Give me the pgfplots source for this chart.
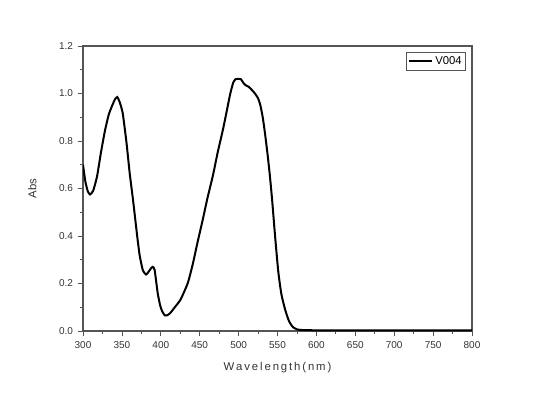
\documentclass[border=0pt]{standalone}
\usepackage{pgfplots}
\pgfplotsset{compat=1.18}
\usepackage{fontspec}
\setmainfont{Liberation Sans}
\definecolor{axgray}{HTML}{555555}
\definecolor{txtgray}{HTML}{333333}
\begin{document}
\begin{tikzpicture}
\begin{axis}[
  scale only axis,
  width=291.75pt, height=213.75pt,
  xmin=300, xmax=800, ymin=0, ymax=1.2,
  xtick={300,350,...,800},
  ytick={0,0.2,...,1.2},
  minor x tick num=1, minor y tick num=1,
  axis line style={axgray, line width=0.8pt},
  tick style={axgray, line width=0.6pt},
  tick align=outside,
  xtick pos=bottom, ytick pos=left,
  major tick length=4pt, minor tick length=2pt,
  /pgf/number format/assume math mode=true,
  xticklabel style={font=\fontsize{7.5}{9}\selectfont, text=txtgray},
  yticklabel style={font=\fontsize{7.5}{9}\selectfont, text=txtgray, /pgf/number format/.cd, fixed, fixed zerofill, precision=1},
  x tick label style={/pgf/number format/.cd, fixed, precision=0},
  xlabel={W\,a\,v\,e\,l\,e\,n\,g\,t\,h\,(\,n\,m\,)},
  ylabel={Abs},
  label style={font=\fontsize{8.5}{10}\selectfont, text=txtgray},
  xlabel style={yshift=-4pt},
  ylabel style={yshift=10pt},
  legend style={at={(0.985,0.98)}, anchor=north east, draw=axgray, line width=0.6pt,
    font=\fontsize{8.5}{10}\selectfont, inner sep=1pt, row sep=0pt},
  legend cell align=left,
  legend image post style={line width=1.5pt},
  clip=true,
]
\addplot[black, line width=1.5pt, smooth, tension=0.35] coordinates {
(300,0.70) (303,0.63) (306,0.59) (309,0.575) (313,0.59) (318,0.65)
(323,0.75) (328,0.84) (333,0.91) (337,0.945) (341,0.975) (344,0.985)
(347,0.965) (351,0.918) (356,0.79) (360,0.665) (364,0.56) (367,0.475)
(370,0.39) (373,0.315) (377,0.255) (381,0.238) (384,0.248)
(387,0.262) (389.5,0.27) (392,0.258) (396,0.16) (399,0.11) (401.5,0.085)
(405,0.066) (408,0.066) (412,0.075) (418,0.10) (425,0.13) (430,0.165)
(435,0.205) (441,0.28) (447,0.37) (454,0.47) (460,0.56)
(467,0.655) (473,0.75) (480,0.85) (485,0.93) (489,0.995) (493,1.045)
(496,1.06) (499,1.062) (503,1.06) (506,1.045) (509,1.035)
(513,1.028) (517,1.015) (521,1.00) (525,0.98) (528,0.95) (531,0.90)
(534,0.83) (537,0.75) (540,0.66) (543,0.555) (547,0.395) (551,0.25)
(555,0.155) (560,0.088) (565,0.040) (570,0.016) (576,0.006) (583,0.004)
(600,0.003) (650,0.003) (700,0.003) (750,0.003) (800,0.003)
};
\addlegendentry{V004}
\end{axis}
\pgfresetboundingbox
\path ([shift={(-62.25pt,-45.75pt)}]current axis.south west) rectangle ([shift={(45.75pt,34.5pt)}]current axis.north east);
\end{tikzpicture}
\end{document}
